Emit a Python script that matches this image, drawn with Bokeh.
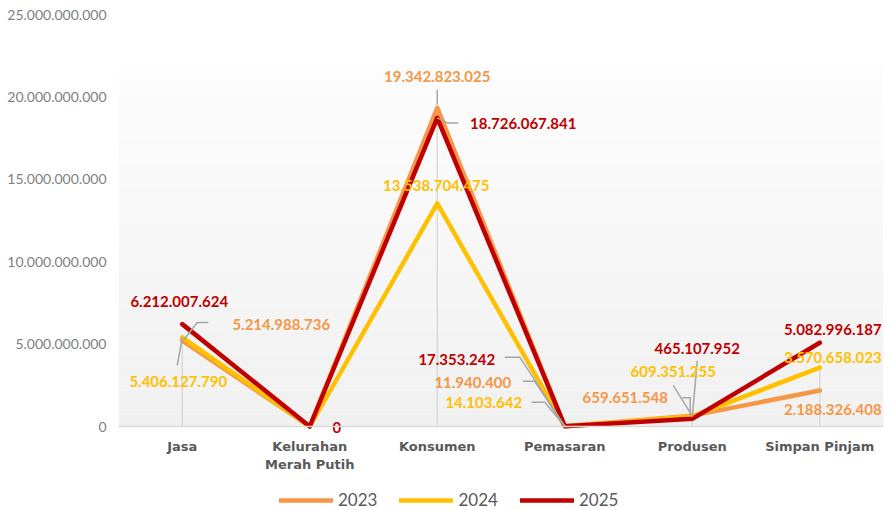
import numpy as np
from bokeh.plotting import figure
from bokeh.models import (Range1d, FixedTicker, CustomJSTickFormatter, Legend, LegendItem,
                          BoxAnnotation, ColumnDataSource)
from bokeh.core.properties import value
from bokeh.embed import file_html
from bokeh.resources import INLINE

# ---------------- data ----------------
categories = ["Jasa", "Kelurahan Merah Putih", "Konsumen", "Pemasaran", "Produsen", "Simpan Pinjam"]
category_labels = ["Jasa", "Kelurahan\nMerah Putih", "Konsumen", "Pemasaran", "Produsen", "Simpan Pinjam"]
years = ["2023", "2024", "2025"]
values_2023 = [5214988736, 0, 19342823025, 11940400, 659651548, 2188326408]
values_2024 = [5406127790, 0, 13538704475, 14103642, 609351255, 3570658023]
values_2025 = [6212007624, 0, 18726067841, 17353242, 465107952, 5082996187]
y_ticks = [0, 5000000000, 10000000000, 15000000000, 20000000000, 25000000000]
y_max = 25000000000

# ---------------- style / layout ----------------
colors = {"2023": "#F79646", "2024": "#FFC000", "2025": "#C00000"}
FW, FH = 765, 412            # plot area for the 0..y_max span
BELOW = 84                   # room under the zero line for category labels + legend
px_x = FW / len(categories)  # pixels per category
px_y = FH / y_max            # pixels per unit

series = {"2023": values_2023, "2024": values_2024, "2025": values_2025}

# label offsets in px (dx, dy; dy positive = down), None = no label
label_offsets = {
    "2023": [(99, -16), None, (0, -31), (-92, -44), (-67, -18), (13, 19)],
    "2024": [(-4, 44), None, (-1, -18), (-81, -24), (-19, -45), (13, -10)],
    "2025": [(-3, -23), (27, 1), (86, 6), (-108, -67), (5, -70), (13, -13)],
}
# leader lines, px offsets relative to the data point
leaders = {
    "2023": {0: [(1, 0), (15, -18), (26, -18)], 2: [(0, -3), (0, -18)],
             3: [(0, 0), (-30, -45), (-42, -45)], 4: [(-2, 0), (-2, -18), (-10, -18)]},
    "2024": {0: [(0, 0), (-5, 28)], 3: [(0, 0), (-20, -24), (-33, -24)],
             4: [(-1, -2), (-19, -31)]},
    "2025": {2: [(0, 0), (10, 5), (21, 5)], 3: [(0, 0), (-45, -69), (-60, -69)],
             4: [(0, -2), (5, -58)]},
}

def fmt(v):
    return f"{v:,}".replace(",", ".")

p = figure(frame_width=FW, frame_height=FH + BELOW, output_backend="svg", toolbar_location=None,
           x_range=Range1d(-0.5, len(categories) - 0.5),
           y_range=Range1d(-BELOW / px_y, y_max),
           min_border_left=118, min_border_right=1, min_border_top=14, min_border_bottom=0)
p.outline_line_color = None
p.background_fill_color = "white"
p.border_fill_color = "white"
p.xgrid.visible = False
p.ygrid.visible = False

# gradient background (plot area)
grad_top = (426 - 65) / FH * y_max
n_bands = 30
c_top = np.array([0xfd, 0xfd, 0xfd])
c_bot = np.array([0xf0, 0xf0, 0xf0])
for k in range(n_bands):
    b = grad_top * k / n_bands
    t = grad_top * (k + 1) / n_bands
    frac = (k + 0.5) / n_bands
    c = c_bot + (c_top - c_bot) * frac
    col = "#%02x%02x%02x" % tuple(int(round(v)) for v in c)
    p.add_layout(BoxAnnotation(bottom=b, top=t, fill_color=col, fill_alpha=1,
                               line_color=None, level="underlay"))

x_idx = list(range(len(categories)))

# drop lines
drop_top = [max(a, b) for a, b in zip(values_2023, values_2024)]
p.segment(x0=x_idx, y0=[0] * len(x_idx), x1=x_idx, y1=drop_top, line_color="#d9d9d9", line_width=1.5)

renderers = {}
for yr in years:
    renderers[yr] = p.line(x_idx, series[yr], line_color=colors[yr], line_width=4.5,
                           line_join="round", line_cap="round")

# leader lines
lx, ly = [], []
for yr in years:
    for i, pts in leaders[yr].items():
        v = series[yr][i]
        lx.append([i + dx / px_x for dx, dy in pts])
        ly.append([v - dy / px_y for dx, dy in pts])
p.multi_line(lx, ly, line_color="#a6a6a6", line_width=1.5)

# value labels
for yr in years:
    xs, ys, ts, xo, yo = [], [], [], [], []
    for i, off in enumerate(label_offsets[yr]):
        if off is None:
            continue
        xs.append(i)
        ys.append(series[yr][i])
        ts.append(fmt(series[yr][i]))
        xo.append(off[0])
        yo.append(off[1])
    src = ColumnDataSource(dict(x=xs, y=ys, t=ts, xo=xo, yo=yo))
    p.text(x="x", y="y", text="t", x_offset="xo", y_offset="yo", source=src,
           text_align="center", text_baseline="middle", text_color=colors[yr],
           text_font=value("Lato"), text_font_style="bold", text_font_size="15px")

# axes
p.yaxis.ticker = FixedTicker(ticks=y_ticks)
p.yaxis.formatter = CustomJSTickFormatter(
    code=r"return Math.round(tick).toString().replace(/\B(?=(\d{3})+(?!\d))/g, '.');")
p.yaxis.axis_line_color = None
p.yaxis.major_tick_line_color = None
p.yaxis.minor_tick_line_color = None
p.yaxis.major_tick_out = 0
p.yaxis.major_label_standoff = 12
p.yaxis.major_label_text_font = "Lato"
p.yaxis.major_label_text_font_size = "14px"
p.yaxis.major_label_text_color = "#7f7f7f"

p.xaxis.fixed_location = 0
p.xaxis.ticker = FixedTicker(ticks=x_idx)
p.xaxis.major_label_overrides = {i: lab for i, lab in zip(x_idx, category_labels)}
p.xaxis.axis_line_color = "#d9d9d9"
p.xaxis.axis_line_width = 1.5
p.xaxis.major_tick_line_color = None
p.xaxis.minor_tick_line_color = None
p.xaxis.major_tick_out = 0
p.xaxis.major_label_standoff = 12
p.xaxis.major_label_text_font = "DejaVu Sans"
p.xaxis.major_label_text_font_style = "bold"
p.xaxis.major_label_text_font_size = "13px"
p.xaxis.major_label_text_color = "#595959"
p.xaxis.major_label_text_line_height = 1.25

legend = Legend(items=[LegendItem(label=yr, renderers=[renderers[yr]]) for yr in years],
                orientation="horizontal", location=(161, 0), border_line_color=None,
                background_fill_alpha=0, glyph_width=54, glyph_height=18, label_standoff=5,
                spacing=22, padding=0, margin=0,
                label_text_font="Lato", label_text_font_size="17px", label_text_color="#595959")
p.add_layout(legend, "center")

open("out.html", "w").write(file_html(p, INLINE))
